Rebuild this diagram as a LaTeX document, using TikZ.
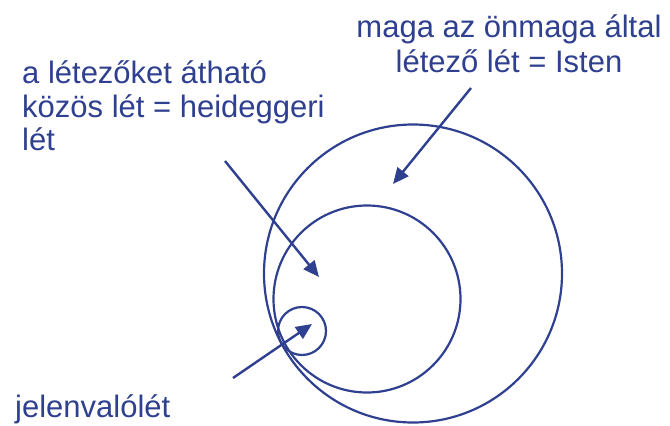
\documentclass[tikz,border=0pt]{standalone}
\usepackage{fontspec}
\setmainfont{Liberation Sans}
\usetikzlibrary{arrows.meta}
\definecolor{ink}{RGB}{46,64,143}
\begin{document}
\begin{tikzpicture}[x=1pt,y=-1pt,
  ring/.style={draw=ink,line width=2.2pt,circle,inner sep=0pt},
  lbl/.style={text=ink,font=\fontsize{31}{35}\selectfont,inner sep=0pt},
  pointer/.style={draw=ink,line width=2.4pt,-{Triangle[length=16pt,width=14pt]}}]
\useasboundingbox (0,0) rectangle (670,426);
% circles
\node[ring,minimum size=298pt] (big) at (413,273.5) {};
\node[ring,minimum size=187pt] (mid) at (367,299) {};
\node[ring,minimum size=48pt] (small) at (302,331) {};
% labels
\node[lbl,anchor=base] (t1) at (509,37) {maga az önmaga által};
\node[lbl,anchor=base] (t2) at (509,72) {létező lét = Isten};
\node[lbl,anchor=base west] (l1) at (22,83) {a létezőket átható};
\node[lbl,anchor=base west] (l2) at (22,117) {közös lét = heideggeri};
\node[lbl,anchor=base west] (l3) at (22,150) {lét};
\node[lbl,anchor=base west] (j1) at (15,417) {jelenvalólét};
% arrow ends
\coordinate (a1s) at (471,88);
\coordinate (a1e) at (393,184);
\coordinate (a2s) at (225,161);
\coordinate (a2e) at (319,277);
\coordinate (a3s) at (233,378);
\coordinate (a3e) at (312,324);
\draw[pointer] (a1s) -- (a1e);
\draw[pointer] (a2s) -- (a2e);
\draw[pointer] (a3s) -- (a3e);
\end{tikzpicture}
\end{document}
